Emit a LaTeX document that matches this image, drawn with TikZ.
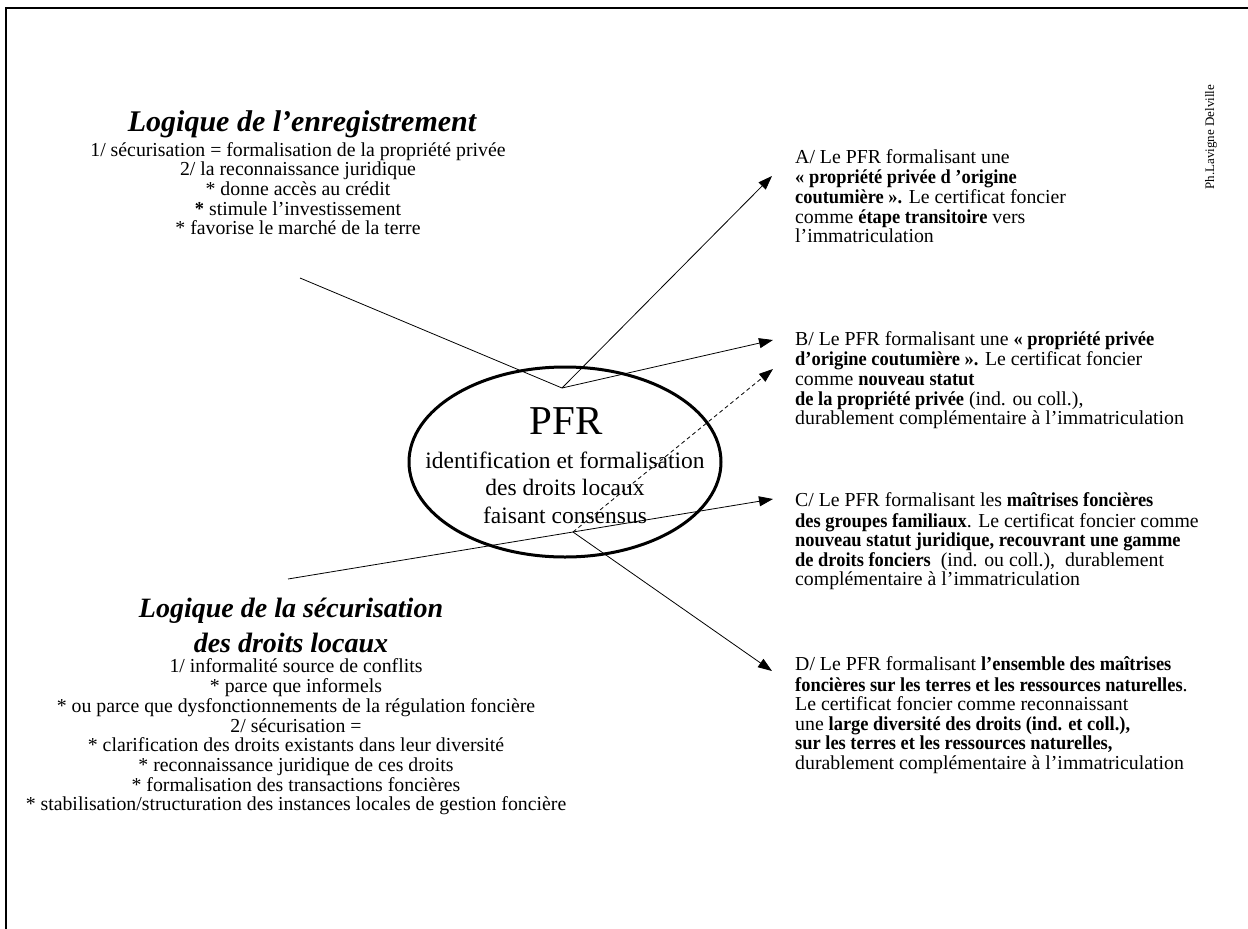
\documentclass[tikz,border=0pt]{standalone}
\usepackage{fontspec}
\setmainfont{Liberation Serif}[BoldFeatures={FakeStretch=0.93}]
\newfontfamily\titlefont{Liberation Serif}
\usetikzlibrary{arrows.meta,shapes.geometric}
\begin{document}
\begin{tikzpicture}[x=1pt,y=-1pt,
  conn/.style={line width=0.8pt,draw=black},
  arr/.style={conn,-{Triangle[length=14pt,width=10pt]}},
  dashedarr/.style={arr,dashed,dash pattern=on 4pt off 3pt},
  bodytext/.style={inner sep=0pt,font=\fontsize{19.8}{19.65}\selectfont},
  ctext/.style={bodytext,align=center,anchor=north},
  rtext/.style={bodytext,align=left,anchor=north west},
  titletext/.style={inner sep=0pt,align=center,anchor=base},
  frame/.style={line width=2.8pt,draw=black}
]
\useasboundingbox (0,0) rectangle (1248,929);
\draw[frame] (1248,8) -- (6,8) -- (6,929);

% left upper block
\node[titletext,font=\titlefont\fontsize{30}{35}\selectfont\bfseries\itshape] (t1) at (302,131) {Logique de l’enregistrement};
\node[ctext] (b1) at (298,142) {\strut 1/ sécurisation = formalisation de la propriété privée\\
2/ la reconnaissance juridique\\
* donne accès au crédit\\
\textbf{*} stimule l’investissement\\
* favorise le marché de la terre};

% left lower block
\node[titletext,font=\titlefont\fontsize{28}{35}\selectfont\bfseries\itshape] (t2) at (291,652) {Logique de la sécurisation\\ des droits locaux};
\node[ctext] (b2) at (296,658) {\strut 1/ informalité source de conflits\\
* parce que informels\\
* ou parce que dysfonctionnements de la régulation foncière\\
2/ sécurisation =\\
* clarification des droits existants dans leur diversité\\
* reconnaissance juridique de ces droits\\
* formalisation des transactions foncières\\
* stabilisation/structuration des instances locales de gestion foncière};

% central ellipse
\node[ellipse,draw,line width=3pt,minimum width=312pt,minimum height=190pt,inner sep=0pt] (pfr) at (565,462) {};
\node[inner sep=0pt,anchor=base,font=\fontsize{41}{41}\selectfont] (pfrlabel) at (566,434) {PFR};
\node[inner sep=0pt,anchor=north,align=center,font=\fontsize{23.5}{27.5}\selectfont] (pfrtext) at (565,449) {\strut identification et formalisation\\ des droits locaux\\ faisant consensus};

% right blocks
\node[rtext] (A) at (795,149) {\strut A/ Le PFR formalisant une\\
\textbf{« propriété privée d ’origine}\\
\textbf{coutumière ».} Le certificat foncier\\
comme \textbf{étape transitoire} vers\\
l’immatriculation};
\node[rtext] (B) at (795,331) {\strut B/ Le PFR formalisant une \textbf{« propriété privée}\\
\textbf{d’origine coutumière ».} Le certificat foncier\\
comme \textbf{nouveau statut}\\
\textbf{de la propriété privée} (ind. ou coll.),\\
durablement complémentaire à l’immatriculation};
\node[rtext] (C) at (795,492) {\strut C/ Le PFR formalisant les \textbf{maîtrises foncières}\\
\textbf{des groupes familiaux}. Le certificat foncier comme\\
\textbf{nouveau statut juridique, recouvrant une gamme}\\
\textbf{de droits fonciers}\ \ (ind. ou coll.),\ \ durablement\\
complémentaire à l’immatriculation};
\node[rtext] (D) at (795,656) {\strut D/ Le PFR formalisant \textbf{l’ensemble des maîtrises}\\
\textbf{foncières sur les terres et les ressources naturelles}.\\
Le certificat foncier comme reconnaissant\\
une \textbf{large diversité des droits (ind. et coll.),}\\
\textbf{sur les terres et les ressources naturelles,}\\
durablement complémentaire à l’immatriculation};

% author
\node[inner sep=0pt,rotate=90,font=\fontsize{13}{14}\selectfont] (auth) at (1211,137) {Ph.Lavigne Delville};

% connector points
\coordinate (s1) at (300,278);
\coordinate (v1) at (562,388);
\coordinate (s2) at (288,579);
\coordinate (v2) at (573,532);
\coordinate (tA) at (772,176);
\coordinate (tB) at (773,340);
\coordinate (tX) at (773,369);
\coordinate (tC) at (773,499);
\coordinate (tD) at (772,671);

\draw[conn] (s1) -- (v1);
\draw[arr] (v1) -- (tA);
\draw[arr] (v1) -- (tB);
\draw[arr] (s2) -- (tC);
\draw[dashedarr] (v2) -- (tX);
\draw[arr] (v2) -- (tD);
\end{tikzpicture}
\end{document}
